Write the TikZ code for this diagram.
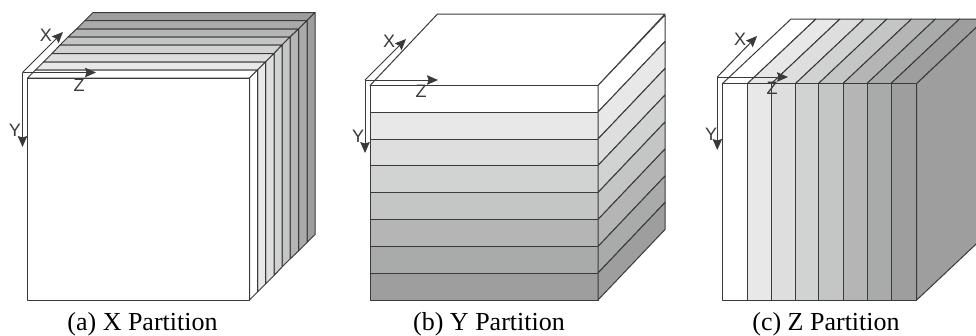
\documentclass[tikz,border=0pt]{standalone}
\usepackage{fontspec}
\setmainfont{Liberation Serif}
\newfontfamily\axisfont{Liberation Sans}
\usetikzlibrary{arrows.meta}
\definecolor{sA}{HTML}{FFFFFF}
\definecolor{sB}{HTML}{E8E8E8}
\definecolor{sC}{HTML}{DEDEDE}
\definecolor{sD}{HTML}{D1D3D3}
\definecolor{sE}{HTML}{C4C6C5}
\definecolor{sF}{HTML}{B5B5B5}
\definecolor{sG}{HTML}{A9ABAA}
\definecolor{sH}{HTML}{9E9E9E}
\definecolor{edge}{HTML}{3A3A3A}
\tikzset{
  slab/.style={draw=edge,line width=1bp,line join=round},
  axis/.style={draw=edge,line width=1bp,-{Stealth[length=11bp,width=9.5bp,inset=1.5bp]}},
  axislabel/.style={font=\axisfont\fontsize{18bp}{18bp}\selectfont,text=edge,inner sep=0pt},
  caption/.style={font=\fontsize{26bp}{26bp}\selectfont,text=black,inner sep=0pt},
}
\begin{document}
\begin{tikzpicture}[x=1bp,y=-1bp]
\useasboundingbox (0,0) rectangle (976,335);
\clip (0,0) rectangle (976,335);
\fill[white] (0,0) rectangle (976,335);
% ---------- (a) X partition
\foreach \i/\col/\xa/\xb/\ya/\yb in {
  8/sH/307/315/20.5/12.5,7/sG/298.5/307/29/20.5,6/sF/290/298.5/37/29,5/sE/282/290/45/37,
  4/sD/274/282/53.5/45,3/sC/265.5/274/62/53.5,2/sB/257.5/265.5/70/62,1/sA/249.5/257.5/78/70}{
  \pgfmathsetmacro{\bya}{\ya+222}
  \pgfmathsetmacro{\byb}{\yb+222}
  \pgfmathsetmacro{\la}{\xa-222}
  \pgfmathsetmacro{\lb}{\xb-222}
  \draw[slab,fill=\col] (\la,\ya) -- (\lb,\yb) -- (\xb,\yb) -- (\xa,\ya) -- cycle;
  \draw[slab,fill=\col] (\xa,\ya) -- (\xb,\yb) -- (\xb,\byb) -- (\xa,\bya) -- cycle;
}
\draw[slab,fill=white] (27.5,78) rectangle (249.5,300);
\coordinate (ao) at (22.5,72.5);
\coordinate (ax) at (63,32);
\coordinate (ay) at (22.5,147);
\coordinate (az) at (96,72.5);
\draw[axis] (ao) -- (ax);
\draw[axis] (ao) -- (ay);
\draw[axis] (ao) -- (az);
\node[axislabel] (alx) at (46,35) {X};
\node[axislabel] (aly) at (15,130) {Y};
\node[axislabel] (alz) at (79,85) {Z};
\node[caption] (capa) at (142.5,324.5) {(a) X Partition};
% ---------- (b) Y partition
\draw[slab,fill=white] (370,85.5) -- (437.5,14) -- (665,14) -- (598,85.5) -- cycle;
\foreach \col/\ya/\yb in {sA/85.5/112,sB/112/139,sC/139/165.5,sD/165.5/192.5,sE/192.5/219.5,sF/219.5/246.5,sG/246.5/273,sH/273/300}{
  \pgfmathsetmacro{\bya}{\ya-70.5}
  \pgfmathsetmacro{\byb}{\yb-70.5}
  \draw[slab,fill=\col] (370,\ya) rectangle (598,\yb);
  \draw[slab,fill=\col] (598,\ya) -- (665,\bya) -- (665,\byb) -- (598,\yb) -- cycle;
}
\coordinate (bo) at (365,80);
\coordinate (bx) at (406,39);
\coordinate (by) at (365,153);
\coordinate (bz) at (438,80);
\draw[axis] (bo) -- (bx);
\draw[axis] (bo) -- (by);
\draw[axis] (bo) -- (bz);
\node[axislabel] (blx) at (389,41) {X};
\node[axislabel] (bly) at (358,136) {Y};
\node[axislabel] (blz) at (421,91) {Z};
\node[caption] (capb) at (489,324.5) {(b) Y Partition};
% ---------- (c) Z partition
\foreach \col/\xa/\xb in {sA/722.5/747.5,sB/747.5/771.5,sC/771.5/795.5,sD/795.5/818.5,sE/818.5/843,sF/843/867,sG/867/891,sH/891/916.7}{
  \pgfmathsetmacro{\tya}{\xa+68.5}
  \pgfmathsetmacro{\tyb}{\xb+68.5}
  \draw[slab,fill=\col] (\xa,83.5) -- (\tya,19) -- (\tyb,19) -- (\xb,83.5) -- cycle;
  \draw[slab,fill=\col] (\xa,83.5) rectangle (\xb,300);
}
\fill[sH] (916.7,83.5) -- (985.2,19) -- (985.2,235.5) -- (916.7,300) -- cycle;
\draw[slab] (985.2,19) -- (916.7,83.5) -- (916.7,300) -- (985.2,235.5);
\coordinate (co) at (717.3,77);
\coordinate (cx) at (757,36);
\coordinate (cy) at (717.3,150);
\coordinate (cz) at (788,77);
\draw[axis] (co) -- (cx);
\draw[axis] (co) -- (cy);
\draw[axis] (co) -- (cz);
\node[axislabel] (clx) at (740,39) {X};
\node[axislabel] (cly) at (711,134) {Y};
\node[axislabel] (clz) at (772,88) {Z};
\node[caption] (capc) at (826,324.5) {(c) Z Partition};
\end{tikzpicture}
\end{document}
